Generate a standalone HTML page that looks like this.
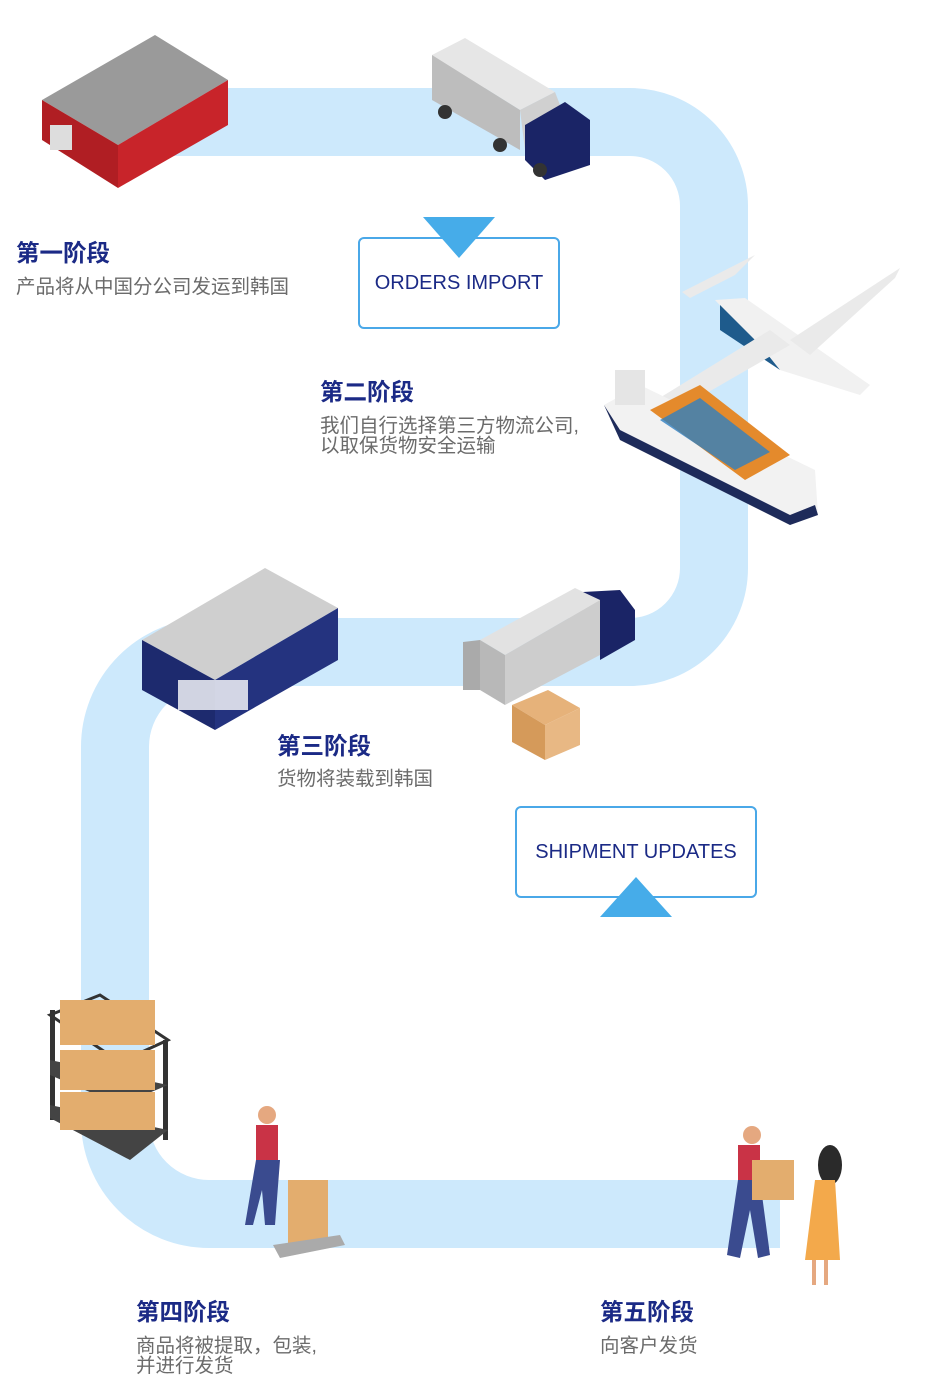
<!DOCTYPE html>
<html><head><meta charset="utf-8"><style>
html,body{margin:0;padding:0;background:#fff;}
body{width:927px;height:1376px;position:relative;overflow:hidden;font-family:"Liberation Sans","Noto Sans CJK SC",sans-serif;}
.h{position:absolute;color:#1b2a86;font-size:23.5px;font-weight:bold;letter-spacing:0px;}
.t{position:absolute;color:#6b6b6b;font-size:19.5px;line-height:20px;white-space:nowrap;}
.box{position:absolute;border:2px solid #4aa8e8;border-radius:6px;background:#fff;color:#1b2a86;font-size:20px;display:flex;align-items:center;justify-content:center;}
svg{position:absolute;left:0;top:0;}
</style></head><body>
<svg width="927" height="1376">
<path d="M120 122 H630 A84 84 0 0 1 714 206 V568 A84 84 0 0 1 630 652 H210 A95 95 0 0 0 115 747 V1120 A94 94 0 0 0 209 1214 H780" fill="none" stroke="#cde9fc" stroke-width="68"/>
<polygon points="42,100 155,35 228,80 118,145" fill="#9a9a9a"/>
<polygon points="42,100 118,145 118,188 42,140" fill="#b01e23"/>
<polygon points="118,145 228,80 228,125 118,188" fill="#c8242a"/>
<rect x="50" y="125" width="22" height="25" fill="#ddd"/>
<polygon points="432,55 465,38 555,92 520,110" fill="#e6e6e6"/>
<polygon points="432,55 520,110 520,150 432,100" fill="#bdbdbd"/>
<polygon points="520,110 555,92 560,105 525,150" fill="#d0d0d0"/>
<polygon points="525,125 565,102 590,120 590,165 545,180 525,160" fill="#1a2466"/>
<circle cx="445" cy="112" r="7" fill="#333"/><circle cx="500" cy="145" r="7" fill="#333"/><circle cx="540" cy="170" r="7" fill="#333"/>
<polygon points="715,300 745,298 870,385 860,395 780,370" fill="#f1f1f1"/>
<polygon points="720,305 760,345 780,370 720,330" fill="#1e5b8c"/>
<polygon points="640,410 770,330 790,345 660,420" fill="#eaeaea"/>
<polygon points="790,340 900,268 895,278 810,355" fill="#eaeaea"/>
<polygon points="682,292 755,255 735,275 690,298" fill="#eaeaea"/>
<polygon points="604,405 640,385 815,470 818,515 790,525 620,440" fill="#f2f2f2"/>
<polygon points="604,405 620,440 790,525 818,515 815,505 790,515 620,430" fill="#1e2b5a"/>
<polygon points="650,410 700,385 790,455 745,480" fill="#e48a2c"/>
<polygon points="660,420 700,398 770,452 735,470" fill="#2f7fc1" opacity=".8"/>
<rect x="615" y="370" width="30" height="35" fill="#e5e5e5"/>
<polygon points="142,640 265,568 338,608 215,680" fill="#cfcfcf"/>
<polygon points="142,640 215,680 215,730 142,690" fill="#1d2a6e"/>
<polygon points="215,680 338,608 338,660 215,730" fill="#24337f"/>
<rect x="178" y="680" width="70" height="30" fill="#fff" opacity=".8"/>
<polygon points="480,640 575,588 600,600 505,655" fill="#e2e2e2"/>
<polygon points="480,640 505,655 505,705 480,690" fill="#b8b8b8"/>
<polygon points="505,655 600,600 600,655 505,705" fill="#cdcdcd"/>
<polygon points="583,592 620,590 635,610 635,640 600,660 600,600" fill="#1a2466"/>
<polygon points="463,642 480,640 480,690 463,690" fill="#aaa"/>
<polygon points="512,705 548,690 580,708 545,725" fill="#e6b27a"/>
<polygon points="512,705 545,725 545,760 512,742" fill="#d59a5a"/>
<polygon points="545,725 580,708 580,745 545,760" fill="#e8b884"/>
<rect x="50" y="1010" width="5" height="110" fill="#333"/><rect x="163" y="1040" width="5" height="100" fill="#333"/>
<polygon points="50,1015 100,995 168,1040 120,1062" fill="none" stroke="#333" stroke-width="3"/>
<polygon points="50,1060 168,1085 120,1105 50,1075" fill="#444"/>
<polygon points="50,1105 168,1130 130,1160 50,1118" fill="#444"/>
<rect x="60" y="1000" width="95" height="45" fill="#e3ad6e"/>
<rect x="60" y="1050" width="95" height="40" fill="#e3ad6e"/>
<rect x="60" y="1092" width="95" height="38" fill="#e3ad6e"/>
<circle cx="267" cy="1115" r="9" fill="#e5a880"/>
<rect x="256" y="1125" width="22" height="40" fill="#c93346"/>
<polygon points="256,1160 280,1160 275,1225 265,1225 262,1190 253,1225 245,1225" fill="#3a4b8f"/>
<rect x="288" y="1180" width="40" height="68" fill="#e3ad6e"/>
<polygon points="273,1245 340,1235 345,1245 280,1258" fill="#aaa"/>
<circle cx="752" cy="1135" r="9" fill="#e5a880"/>
<rect x="738" y="1145" width="22" height="40" fill="#c93346"/>
<polygon points="738,1180 760,1180 770,1255 758,1258 750,1210 740,1258 727,1255" fill="#3a4b8f"/>
<rect x="752" y="1160" width="42" height="40" fill="#e3ad6e"/>
<ellipse cx="830" cy="1165" rx="12" ry="20" fill="#2a2a2a"/>
<polygon points="815,1180 835,1180 840,1260 805,1260" fill="#f3a94b"/>
<rect x="812" y="1260" width="4" height="25" fill="#e5a880"/><rect x="824" y="1260" width="4" height="25" fill="#e5a880"/>
</svg>
<div class="h" style="left:16px;top:234px">第一阶段</div>
<div class="t" style="left:16px;top:277px">产品将从中国分公司发运到韩国</div>
<div class="box" style="left:358px;top:237px;width:198px;height:88px">ORDERS IMPORT</div>
<div class="h" style="left:320px;top:373px">第二阶段</div>
<div class="t" style="left:320px;top:416px">我们自行选择第三方物流公司,<br>以取保货物安全运输</div>
<div class="h" style="left:277px;top:727px">第三阶段</div>
<div class="t" style="left:277px;top:769px">货物将装载到韩国</div>
<div class="box" style="left:515px;top:806px;width:238px;height:88px">SHIPMENT UPDATES</div>
<div class="h" style="left:136px;top:1293px">第四阶段</div>
<div class="t" style="left:136px;top:1336px">商品将被提取，包装,<br>并进行发货</div>
<div class="h" style="left:600px;top:1293px">第五阶段</div>
<div class="t" style="left:600px;top:1336px">向客户发货</div>
<svg width="927" height="1376" style="pointer-events:none">
<polygon points="423,217 495,217 459,258" fill="#46ace9"/>
<polygon points="600,917 672,917 636,877" fill="#46ace9"/>
</svg>
</body></html>
